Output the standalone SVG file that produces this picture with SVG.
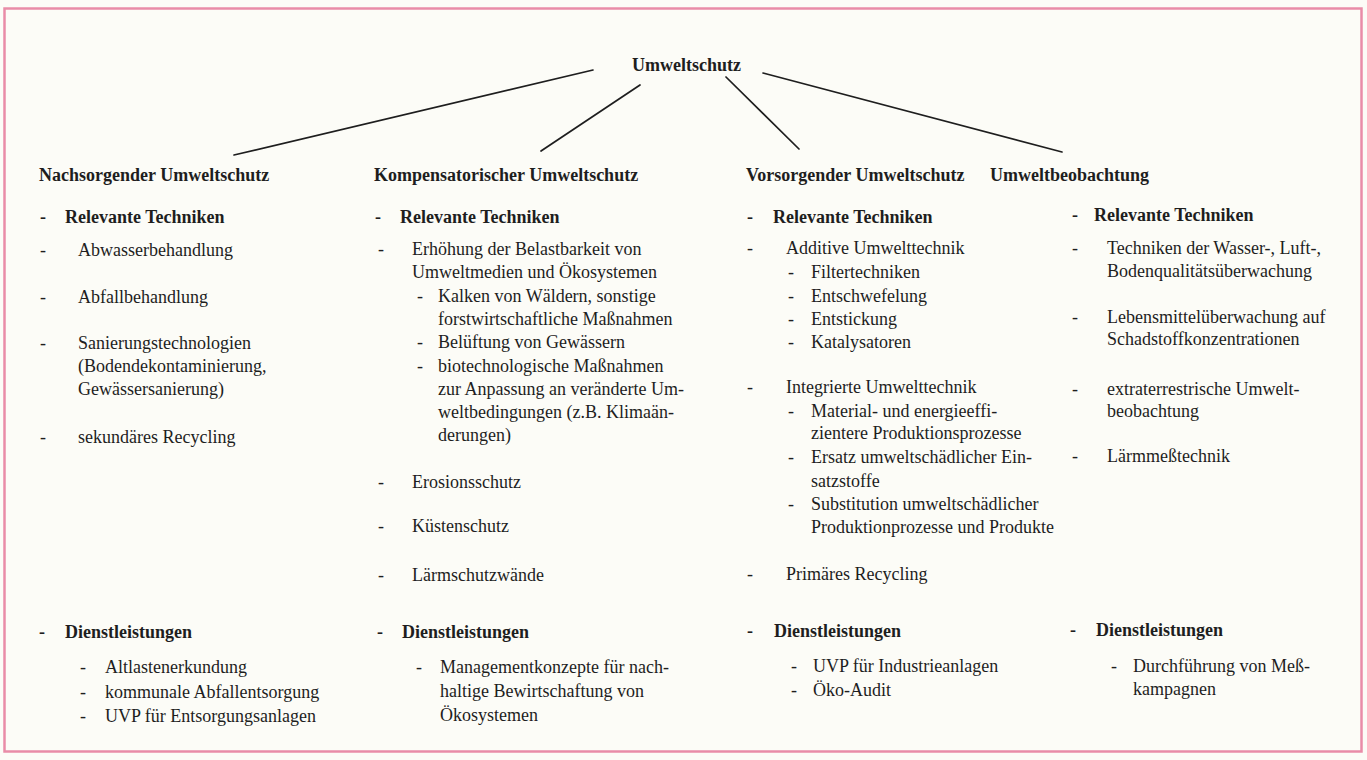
<svg xmlns="http://www.w3.org/2000/svg" width="1367" height="760" viewBox="0 0 1367 760">
<style>
text{font-family:"Liberation Serif","Times New Roman",serif;font-size:18px;fill:#1e1e1e}
.b{font-weight:bold}
.c{stroke:#1e1e1e;stroke-width:1.7;fill:none;stroke-linecap:round}
</style>
<rect x="0" y="0" width="1367" height="760" fill="#fcfcf7"/>
<rect x="4.5" y="8.5" width="1357" height="743" fill="none" stroke="#e98ca8" stroke-width="2.5"/>
<g id="connectors">
<line class="c" x1="593" y1="70" x2="234" y2="155"/>
<line class="c" x1="640" y1="85" x2="541" y2="151"/>
<line class="c" x1="726" y1="77" x2="799" y2="149"/>
<line class="c" x1="763" y1="73" x2="1062" y2="152"/>
</g>
<g id="root"><text class="b" x="632" y="71">Umweltschutz</text></g>
<g id="nachsorgend">
<text class="b" x="39" y="181">Nachsorgender Umweltschutz</text>
<text class="b" x="40" y="223">-</text><text class="b" x="65" y="223">Relevante Techniken</text>
<text x="40" y="256">-</text><text x="78" y="256">Abwasserbehandlung</text>
<text x="40" y="303">-</text><text x="78" y="303">Abfallbehandlung</text>
<text x="40" y="349">-</text><text x="78" y="349">Sanierungstechnologien</text>
<text x="78" y="372">(Bodendekontaminierung,</text>
<text x="78" y="395">Gewässersanierung)</text>
<text x="40" y="443">-</text><text x="78" y="443">sekundäres Recycling</text>
<text class="b" x="39" y="638">-</text><text class="b" x="65" y="638">Dienstleistungen</text>
<text x="80" y="673">-</text><text x="105" y="673">Altlastenerkundung</text>
<text x="80" y="698">-</text><text x="105" y="698">kommunale Abfallentsorgung</text>
<text x="80" y="722">-</text><text x="105" y="722">UVP für Entsorgungsanlagen</text>
</g>
<g id="kompensatorisch">
<text class="b" x="374" y="181">Kompensatorischer Umweltschutz</text>
<text class="b" x="375" y="223">-</text><text class="b" x="400" y="223">Relevante Techniken</text>
<text x="378" y="255">-</text><text x="412" y="255">Erhöhung der Belastbarkeit von</text>
<text x="412" y="278">Umweltmedien und Ökosystemen</text>
<text x="417" y="302">-</text><text x="438" y="302">Kalken von Wäldern, sonstige</text>
<text x="438" y="325">forstwirtschaftliche Maßnahmen</text>
<text x="417" y="348">-</text><text x="438" y="348">Belüftung von Gewässern</text>
<text x="417" y="372">-</text><text x="438" y="372">biotechnologische Maßnahmen</text>
<text x="438" y="395">zur Anpassung an veränderte Um-</text>
<text x="438" y="418">weltbedingungen (z.B. Klimaän-</text>
<text x="438" y="441">derungen)</text>
<text x="378" y="488">-</text><text x="412" y="488">Erosionsschutz</text>
<text x="378" y="532">-</text><text x="412" y="532">Küstenschutz</text>
<text x="378" y="581">-</text><text x="412" y="581">Lärmschutzwände</text>
<text class="b" x="377" y="638">-</text><text class="b" x="402" y="638">Dienstleistungen</text>
<text x="416" y="673">-</text><text x="440" y="673">Managementkonzepte für nach-</text>
<text x="440" y="697">haltige Bewirtschaftung von</text>
<text x="440" y="721">Ökosystemen</text>
</g>
<g id="vorsorgend">
<text class="b" x="746" y="181">Vorsorgender Umweltschutz</text>
<text class="b" x="747" y="223">-</text><text class="b" x="773" y="223">Relevante Techniken</text>
<text x="747" y="254">-</text><text x="786" y="254">Additive Umwelttechnik</text>
<text x="788" y="278">-</text><text x="811" y="278">Filtertechniken</text>
<text x="788" y="302">-</text><text x="811" y="302">Entschwefelung</text>
<text x="788" y="325">-</text><text x="811" y="325">Entstickung</text>
<text x="788" y="348">-</text><text x="811" y="348">Katalysatoren</text>
<text x="747" y="393">-</text><text x="786" y="393">Integrierte Umwelttechnik</text>
<text x="788" y="417">-</text><text x="811" y="417">Material- und energieeffi-</text>
<text x="811" y="439">zientere Produktionsprozesse</text>
<text x="788" y="463">-</text><text x="811" y="463">Ersatz umweltschädlicher Ein-</text>
<text x="811" y="487">satzstoffe</text>
<text x="788" y="510">-</text><text x="811" y="510">Substitution umweltschädlicher</text>
<text x="811" y="533">Produktionprozesse und Produkte</text>
<text x="747" y="580">-</text><text x="786" y="580">Primäres Recycling</text>
<text class="b" x="747" y="637">-</text><text class="b" x="774" y="637">Dienstleistungen</text>
<text x="791" y="672">-</text><text x="813" y="672">UVP für Industrieanlagen</text>
<text x="791" y="696">-</text><text x="813" y="696">Öko-Audit</text>
</g>
<g id="beobachtung">
<text class="b" x="990" y="181">Umweltbeobachtung</text>
<text class="b" x="1072" y="221">-</text><text class="b" x="1094" y="221">Relevante Techniken</text>
<text x="1072" y="254">-</text><text x="1107" y="254">Techniken der Wasser-, Luft-,</text>
<text x="1107" y="277">Bodenqualitätsüberwachung</text>
<text x="1072" y="323">-</text><text x="1107" y="323">Lebensmittelüberwachung auf</text>
<text x="1107" y="345">Schadstoffkonzentrationen</text>
<text x="1072" y="395">-</text><text x="1107" y="395">extraterrestrische Umwelt-</text>
<text x="1107" y="417">beobachtung</text>
<text x="1072" y="462">-</text><text x="1107" y="462">Lärmmeßtechnik</text>
<text class="b" x="1070" y="636">-</text><text class="b" x="1096" y="636">Dienstleistungen</text>
<text x="1111" y="672">-</text><text x="1133" y="672">Durchführung von Meß-</text>
<text x="1133" y="695">kampagnen</text>
</g>
</svg>
